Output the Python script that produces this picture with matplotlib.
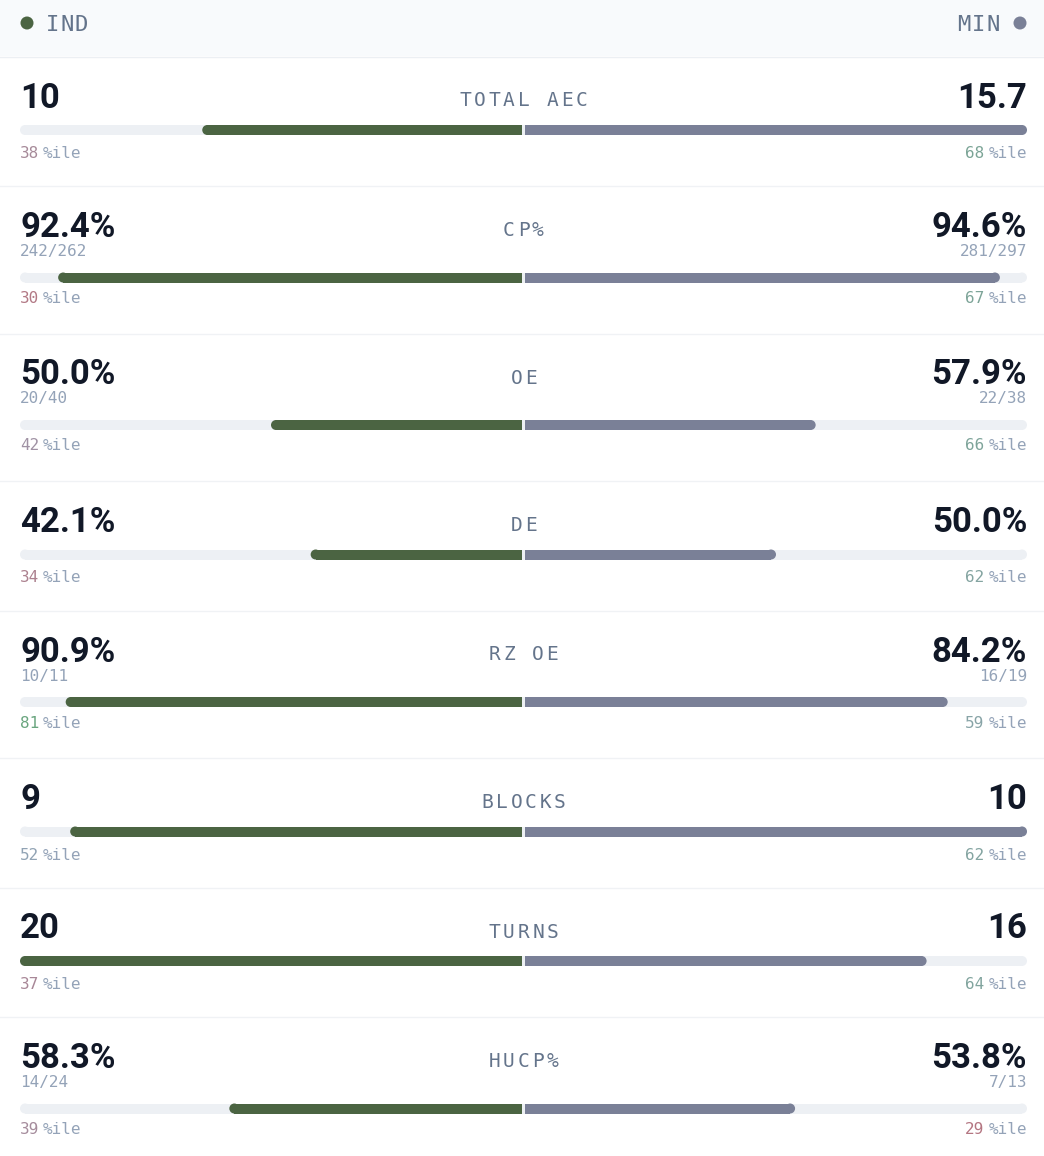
import matplotlib
matplotlib.use("Agg")
import matplotlib.pyplot as plt
from matplotlib.patches import Rectangle, Circle

# data
teams = ["IND", "MIN"]
metrics = ["TOTAL AEC", "CP%", "OE", "DE", "RZ OE", "BLOCKS", "TURNS", "HUCP%"]
is_rate = [False, True, True, True, True, False, False, True]
ind_vals = [10, 92.4, 50.0, 42.1, 90.9, 9, 20, 58.3]
min_vals = [15.7, 94.6, 57.9, 50.0, 84.2, 10, 16, 53.8]
ind_sub = [None, "242/262", "20/40", None, "10/11", None, None, "14/24"]
min_sub = [None, "281/297", "22/38", None, "16/19", None, None, "7/13"]
ind_pctile = [38, 30, 42, 34, 81, 52, 37, 39]
min_pctile = [68, 67, 66, 62, 59, 62, 64, 29]

# style
W, H = 1044, 1156
GREEN = "#4b6442"
GRAY = "#7a8097"
TRACK = "#edf0f4"
DARK = "#111827"
MUTED = "#94a3b8"
LABEL = "#64748b"
LINE = "#f0f2f5"
MONO = "DejaVu Sans Mono"
VALFONT = ["Roboto", "DejaVu Sans"]

LEFT, RIGHT, CENTER = 20, 1027, 523.5
GAP = 1.5
BAR_H = 10


def pct_color(p):
    neutral = (148, 163, 184)
    low = (186, 110, 120)
    high = (100, 165, 118)
    if p < 50:
        t = min((50 - p) / 25, 1)
        tgt = low
    else:
        t = min((p - 50) / 35, 1)
        tgt = high
    return tuple((n + t * (g - n)) / 255 for n, g in zip(neutral, tgt))


def fmt(v, rate):
    return f"{v:.1f}%" if rate else f"{v:g}"


def spaced(ax, x, y, s, pitch, ha="center", **kw):
    n = len(s)
    if ha == "center":
        start = x - (n - 1) * pitch / 2
    elif ha == "left":
        start = x + pitch / 2
    else:
        start = x - (n - 1) * pitch - pitch / 2
    for i, ch in enumerate(s):
        ax.text(start + i * pitch, y, ch, ha="center", va="baseline", **kw)


def round_bar(ax, x0, x1, yc, color, square_left=False, square_right=False):
    if x1 - x0 <= 0:
        return
    r = BAR_H / 2
    ax.add_patch(Rectangle((x0 + r, yc - r), x1 - x0 - 2 * r, BAR_H, fc=color, ec="none", lw=0))
    if square_left:
        ax.add_patch(Rectangle((x0, yc - r), 2 * r, BAR_H, fc=color, ec="none", lw=0))
    else:
        ax.add_patch(Circle((x0 + r, yc), r, fc=color, ec="none", lw=0))
    if square_right:
        ax.add_patch(Rectangle((x1 - 2 * r, yc - r), 2 * r, BAR_H, fc=color, ec="none", lw=0))
    else:
        ax.add_patch(Circle((x1 - r, yc), r, fc=color, ec="none", lw=0))


fig = plt.figure(figsize=(W / 100, H / 100), dpi=100)
ax = fig.add_axes([0, 0, 1, 1])
ax.set_xlim(0, W)
ax.set_ylim(H, 0)
ax.axis("off")

# header
ax.add_patch(Rectangle((0, 0), W, 56, fc="#f8fafc", ec="none"))
ax.plot([0, W], [56.5, 56.5], color="#eceff3", lw=1)
ax.add_patch(Circle((27, 23), 6.5, fc=GREEN, ec="none"))
ax.add_patch(Circle((1020, 23), 6.5, fc=GRAY, ec="none"))
spaced(ax, 45, 31, teams[0], 14.5, ha="left", fontsize=16, color=LABEL, family=MONO)
spaced(ax, 1000, 31, teams[1], 14.5, ha="right", fontsize=16, color=LABEL, family=MONO)

half = CENTER - LEFT - GAP
top = 56.5
for i, name in enumerate(metrics):
    has_sub = ind_sub[i] is not None or min_sub[i] is not None
    row_h = 147.5 if has_sub else 129.5
    rate = is_rate[i]
    vmax = 100 if rate else max(ind_vals[i], min_vals[i])

    # values
    ax.text(LEFT, top + 51, fmt(ind_vals[i], rate), ha="left", va="baseline",
            fontsize=25, fontweight="bold", color=DARK, family=VALFONT)
    ax.text(RIGHT, top + 51, fmt(min_vals[i], rate), ha="right", va="baseline",
            fontsize=25, fontweight="bold", color=DARK, family=VALFONT)
    spaced(ax, CENTER, top + 50, name, 14.5, fontsize=14, color=LABEL, family=MONO)

    if has_sub:
        ax.text(LEFT, top + 70, ind_sub[i], ha="left", va="baseline",
                fontsize=11.5, color=MUTED, family=MONO)
        ax.text(RIGHT, top + 70, min_sub[i], ha="right", va="baseline",
                fontsize=11.5, color=MUTED, family=MONO)
        yc = top + 91.5
        yp = top + 117
    else:
        yc = top + 73.5
        yp = top + 101.5

    # bars
    round_bar(ax, LEFT, RIGHT, yc, TRACK)
    lw_ = half * ind_vals[i] / vmax
    rw_ = half * min_vals[i] / vmax
    round_bar(ax, CENTER - GAP - lw_, CENTER - GAP, yc, GREEN, square_right=True)
    round_bar(ax, CENTER + GAP, CENTER + GAP + rw_, yc, GRAY, square_left=True)

    # percentiles
    ax.text(LEFT, yp, str(ind_pctile[i]), ha="left", va="baseline", fontsize=11.5,
            color=pct_color(ind_pctile[i]), family=MONO)
    ax.text(LEFT + 23, yp, "%ile", ha="left", va="baseline", fontsize=11.5,
            color=MUTED, family=MONO)
    ax.text(RIGHT - 43, yp, str(min_pctile[i]), ha="right", va="baseline", fontsize=11.5,
            color=pct_color(min_pctile[i]), family=MONO)
    ax.text(RIGHT, yp, "%ile", ha="right", va="baseline", fontsize=11.5,
            color=MUTED, family=MONO)

    top += row_h
    if i < len(metrics) - 1:
        ax.plot([0, W], [top, top], color=LINE, lw=1)

fig.savefig("out.png", dpi=100, facecolor="white")
